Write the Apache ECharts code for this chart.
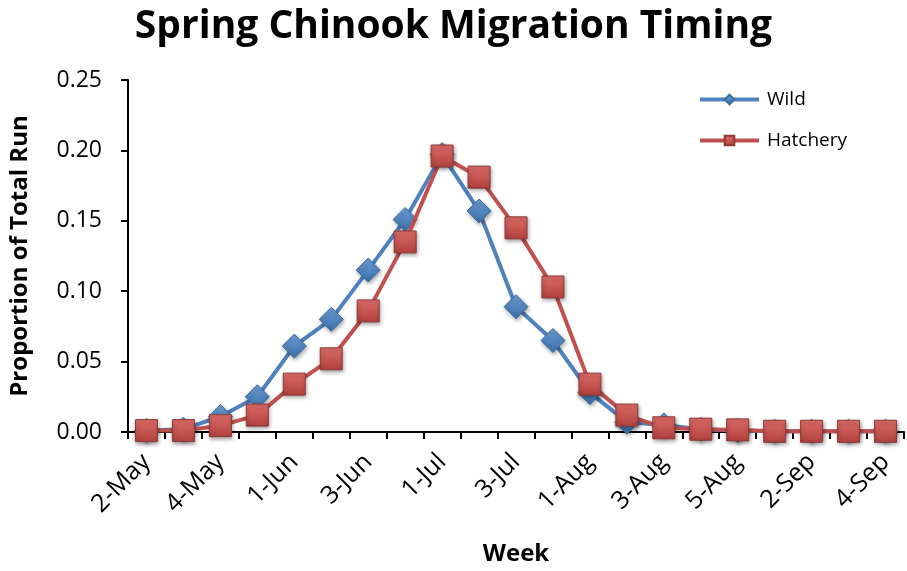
<!DOCTYPE html>
<html><head><meta charset="utf-8">
<script src="https://cdn.jsdelivr.net/npm/echarts@6/dist/echarts.min.js"></script>
<style>html,body{margin:0;padding:0;background:#fff}#c{width:907px;height:571px}</style>
</head><body><div id="c"></div>
<script>
const weeks = ["2-May","3-May","4-May","5-May","1-Jun","2-Jun","3-Jun","4-Jun","1-Jul","2-Jul","3-Jul","4-Jul","1-Aug","2-Aug","3-Aug","4-Aug","5-Aug","1-Sep","2-Sep","3-Sep","4-Sep"];
const wild = [0.001,0.002,0.011,0.025,0.061,0.080,0.115,0.151,0.197,0.157,0.089,0.065,0.028,0.007,0.005,0.002,0.001,0.0005,0.0005,0.0005,0.0005];
const hatchery = [0.001,0.001,0.0045,0.012,0.034,0.052,0.086,0.135,0.196,0.181,0.145,0.103,0.034,0.012,0.003,0.002,0.0015,0.0005,0.0005,0.0005,0.0005];
const yTicks = [0, 0.05, 0.10, 0.15, 0.20, 0.25];

const font = "'Open Sans', 'Noto Sans', sans-serif";
const chart = echarts.init(document.getElementById('c'), null, {renderer:'canvas'});
function grad(c1, c2){
  return new echarts.graphic.LinearGradient(0,0,0,1,[{offset:0,color:c1},{offset:1,color:c2}]);
}
chart.setOption({
  animation:false,
  title:{text:'Spring Chinook Migration Timing',left:'center',top:2,
    textStyle:{fontFamily:font,fontWeight:'bold',fontSize:39,color:'#000'}},
  legend:{orient:'vertical',left:693,top:85,itemGap:22,itemWidth:59,itemHeight:12,
    textStyle:{fontFamily:font,fontSize:19,color:'#000',padding:[0,0,0,3]},
    lineStyle:{width:4},
    data:['Wild','Hatchery']},
  grid:{left:127,right:3,top:80,bottom:138,containLabel:false},
  xAxis:{type:'category',data:weeks,boundaryGap:true,
    name:'Week',nameLocation:'middle',nameGap:110,
    nameTextStyle:{fontFamily:font,fontWeight:'bold',fontSize:24,color:'#000'},
    axisLine:{lineStyle:{color:'#000',width:2}},
    axisTick:{show:true,interval:0,length:7,lineStyle:{color:'#000',width:2}},
    axisLabel:{interval:1,rotate:45,fontFamily:font,fontSize:25,color:'#000',margin:26}},
  yAxis:{type:'value',min:0,max:0.25,interval:0.05,
    name:'Proportion of Total Run',nameLocation:'middle',nameGap:96,
    nameTextStyle:{fontFamily:font,fontWeight:'bold',fontSize:24,color:'#000'},
    axisLine:{show:true,lineStyle:{color:'#000',width:2}},
    axisTick:{show:true,length:7,lineStyle:{color:'#000',width:2}},
    splitLine:{show:false},
    axisLabel:{fontFamily:font,fontSize:23,color:'#000',margin:26,
      formatter:v=>v.toFixed(2)}},
  series:[
    {name:'Wild',type:'line',data:wild,symbol:'diamond',symbolSize:24,
      lineStyle:{color:'#4F81BD',width:4},
      itemStyle:{color:grad('#6d9ed6','#3a6ea8'),borderColor:'#3d6c9f',borderWidth:1,
        shadowColor:'rgba(0,0,0,0.35)',shadowBlur:4,shadowOffsetX:1,shadowOffsetY:2},z:2},
    {name:'Hatchery',type:'line',data:hatchery,symbol:'rect',symbolSize:22,
      lineStyle:{color:'#C0504D',width:4},
      itemStyle:{color:grad('#e06d69','#b0403d'),borderColor:'#8c3a38',borderWidth:1,
        shadowColor:'rgba(0,0,0,0.35)',shadowBlur:4,shadowOffsetX:1,shadowOffsetY:2},z:3}
  ]
});
</script></body></html>
